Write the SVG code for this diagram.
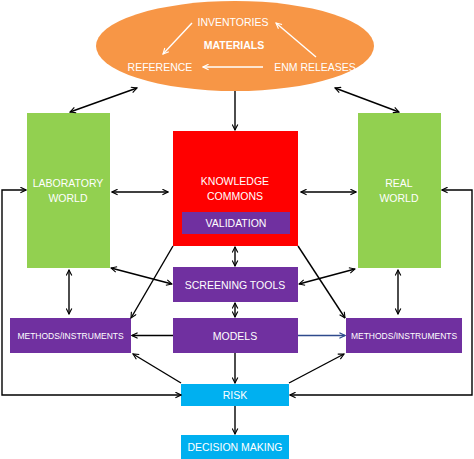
<svg xmlns="http://www.w3.org/2000/svg" width="474" height="459" viewBox="0 0 474 459">
<defs>
<marker id="ah" viewBox="0 0 10 10" refX="9" refY="5" markerWidth="7" markerHeight="7" orient="auto-start-reverse" markerUnits="userSpaceOnUse">
<path d="M1,1 L9,5 L1,9" fill="none" stroke="#000" stroke-width="1.6"/>
</marker>
<marker id="ahb" viewBox="0 0 10 10" refX="9" refY="5" markerWidth="7" markerHeight="7" orient="auto-start-reverse" markerUnits="userSpaceOnUse">
<path d="M1,1 L9,5 L1,9" fill="none" stroke="#2E4A8C" stroke-width="1.6"/>
</marker>
<marker id="ahw" viewBox="0 0 10 10" refX="9" refY="5" markerWidth="7" markerHeight="7" orient="auto-start-reverse" markerUnits="userSpaceOnUse">
<path d="M1,1 L9,5 L1,9" fill="none" stroke="#fff" stroke-width="1.6"/>
</marker>
</defs>
<style>
text{font-family:"Liberation Sans",Arial,sans-serif;fill:#fff;text-anchor:middle;dominant-baseline:central}
.t{font-size:10.5px}
.s{font-size:8.5px}
.b{font-weight:bold}
.c{fill:none;stroke:#000;stroke-width:1.4}
.w{fill:none;stroke:#fff;stroke-width:1.4}
</style>
<rect width="474" height="459" fill="#fff"/>
<g id="materials">
<ellipse cx="235" cy="46" rx="139" ry="45" fill="#F79646"/>
<text class="t" x="233" y="22">INVENTORIES</text>
<text class="t b" x="234" y="45">MATERIALS</text>
<text class="t" x="160" y="67">REFERENCE</text>
<text class="t" x="315" y="67">ENM RELEASES</text>
<line class="w" x1="192" y1="23" x2="163" y2="54" marker-end="url(#ahw)"/>
<line class="w" x1="316" y1="57" x2="276" y2="23" marker-end="url(#ahw)"/>
<line class="w" x1="263" y1="67" x2="203" y2="67" marker-end="url(#ahw)"/>
</g>
<g id="lab">
<rect x="27" y="113" width="83" height="155" fill="#92D050"/>
<text class="t" x="68" y="183">LABORATORY</text>
<text class="t" x="68" y="198">WORLD</text>
</g>
<g id="real">
<rect x="358" y="113" width="83" height="155" fill="#92D050"/>
<text class="t" x="399" y="183">REAL</text>
<text class="t" x="399" y="198">WORLD</text>
</g>
<g id="knowledge">
<rect x="173" y="131" width="125" height="115" fill="#FF0000"/>
<text class="t" x="235" y="181">KNOWLEDGE</text>
<text class="t" x="235" y="196">COMMONS</text>
</g>
<g id="validation">
<rect x="182" y="212" width="108" height="22" fill="#7030A0"/>
<text class="t" x="236" y="223">VALIDATION</text>
</g>
<g id="screening">
<rect x="173" y="267" width="125" height="35" fill="#7030A0"/>
<text class="t" x="235" y="284.5">SCREENING TOOLS</text>
</g>
<g id="models">
<rect x="173" y="318" width="125" height="35" fill="#7030A0"/>
<text class="t" x="235" y="335.5">MODELS</text>
</g>
<g id="methods-left">
<rect x="10" y="318" width="121" height="35" fill="#7030A0"/>
<text class="s" x="70.5" y="335.5">METHODS/INSTRUMENTS</text>
</g>
<g id="methods-right">
<rect x="346" y="318" width="116" height="35" fill="#7030A0"/>
<text class="s" x="404" y="335.5">METHODS/INSTRUMENTS</text>
</g>
<g id="risk">
<rect x="181" y="384" width="108" height="22" fill="#00B0F0"/>
<text class="t" x="235" y="395">RISK</text>
</g>
<g id="decision">
<rect x="181" y="435" width="108" height="24" fill="#00B0F0"/>
<text class="t" x="235" y="447">DECISION MAKING</text>
</g>
<g id="connectors">
<line class="c" x1="235" y1="91" x2="235" y2="130" marker-end="url(#ah)"/>
<line class="c" x1="137" y1="88" x2="70" y2="112" marker-start="url(#ah)" marker-end="url(#ah)"/>
<line class="c" x1="335" y1="88" x2="399" y2="112" marker-start="url(#ah)" marker-end="url(#ah)"/>
<line class="c" x1="112" y1="192" x2="168" y2="192" marker-start="url(#ah)" marker-end="url(#ah)"/>
<line class="c" x1="301" y1="192" x2="356" y2="192" marker-start="url(#ah)" marker-end="url(#ah)"/>
<polyline class="c" points="181,395 2,395 2,190 26,190" marker-start="url(#ah)" marker-end="url(#ah)" stroke-width="1.6"/>
<polyline class="c" points="290,395 472,395 472,190 442,190" marker-start="url(#ah)" marker-end="url(#ah)" stroke-width="1.6"/>
<line class="c" x1="235" y1="247" x2="235" y2="266" marker-start="url(#ah)" marker-end="url(#ah)"/>
<line class="c" x1="235" y1="303" x2="235" y2="317" marker-start="url(#ah)" marker-end="url(#ah)"/>
<line class="c" x1="235" y1="353" x2="235" y2="383" marker-end="url(#ah)"/>
<line class="c" x1="235" y1="406" x2="235" y2="434" marker-end="url(#ah)"/>
<line class="c" x1="111" y1="268" x2="172" y2="284" marker-start="url(#ah)" marker-end="url(#ah)"/>
<line class="c" x1="299" y1="284" x2="355" y2="269" marker-start="url(#ah)" marker-end="url(#ah)"/>
<line class="c" x1="69" y1="270" x2="69" y2="314" marker-start="url(#ah)" marker-end="url(#ah)"/>
<line class="c" x1="398" y1="270" x2="398" y2="314" marker-start="url(#ah)" marker-end="url(#ah)"/>
<line class="c" x1="173" y1="246" x2="131" y2="318" marker-end="url(#ah)"/>
<line class="c" x1="298" y1="246" x2="345" y2="318" marker-end="url(#ah)"/>
<line class="c" x1="173" y1="335.5" x2="132" y2="335.5" marker-end="url(#ah)"/>
<line x1="298" y1="335.5" x2="345" y2="335.5" stroke="#2E4A8C" stroke-width="1.4" marker-end="url(#ahb)"/>
<line class="c" x1="181" y1="383" x2="133" y2="354" marker-end="url(#ah)"/>
<line class="c" x1="289" y1="383" x2="344" y2="354" marker-end="url(#ah)"/>
</g>
</svg>
